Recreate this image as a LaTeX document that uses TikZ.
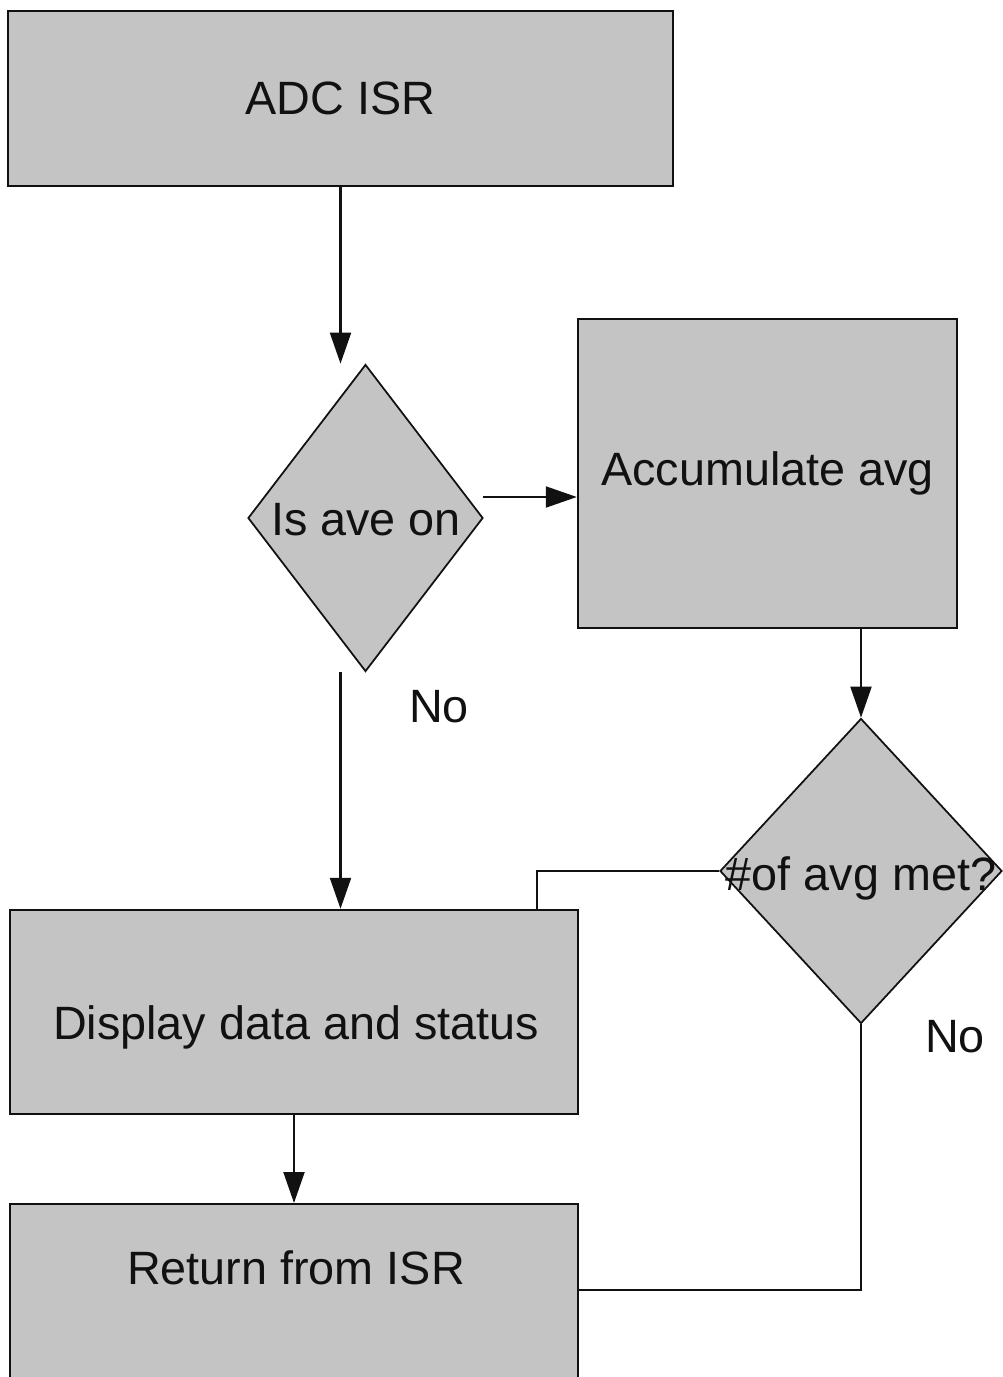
\documentclass[tikz,border=0pt]{standalone}
\usepackage{fontspec}
\setmainfont{Liberation Sans}
\usetikzlibrary{calc,shapes.geometric,arrows.meta}
\definecolor{shade}{HTML}{C4C4C4}
\definecolor{ink}{HTML}{111111}
\tikzset{
  txt/.style={text=ink, font=\fontsize{13.3}{16}\selectfont, inner sep=0pt},
  box/.style={rectangle, draw=ink, fill=shade, line width=0.7pt, txt},
  decision/.style={diamond, draw=ink, fill=shade, line width=0.5pt, inner sep=0pt},
  flow/.style={draw=ink, line width=0.6pt, -{Triangle[length=3.1mm,width=2.1mm]}},
  wire/.style={draw=ink, line width=0.6pt},
}

\begin{document}
\begin{tikzpicture}
  \useasboundingbox (0,0) rectangle (10.03,-13.77);
  \clip (0,0) rectangle (10.03,-13.77);

  % boxes and decisions
  \node[box, minimum width=6.65cm, minimum height=1.75cm] (adc) at (3.405,-0.985) {ADC ISR};
  \node[decision, minimum width=2.35cm, minimum height=3.07cm] (ave) at (3.655,-5.18) {};
  \node[txt] (avetext) at (3.66,-5.20) {Is ave on};
  \node[box, minimum width=3.79cm, minimum height=3.09cm] (acc) at (7.675,-4.735) {Accumulate avg};
  \node[decision, minimum width=2.82cm, minimum height=3.05cm] (avg) at (8.61,-8.71) {};
  \node[txt] (avgtext) at (8.61,-8.78) {\#of avg met?};
  \node[box, minimum width=5.68cm, minimum height=2.04cm] (disp) at (2.94,-10.12) {};
  \node[txt] (disptext) at ($(disp)+(0.02,-0.15)$) {Display data and status};
  \node[box, minimum width=5.68cm, minimum height=2.2cm, anchor=north] (ret) at (2.94,-12.03) {};
  \node[txt] (rettext) at ($(ret.north)+(0.02,-0.65)$) {Return from ISR};

  \node[txt] (no1) at (4.39,-7.07) {No};
  \node[txt] (no2) at (9.55,-10.37) {No};

  % connectors
  \coordinate (yes1) at (4.83,-4.97);
  \coordinate (back) at (5.37,-8.71);
  \coordinate (down) at (8.61,-12.90);

  \draw[flow] (adc.south) -- (adc.south |- ave.north);
  \draw[flow] (yes1) -- (yes1 -| acc.west);
  \draw[flow] (avg.north |- acc.south) -- (avg.north);
  \draw[flow] (adc.south |- ave.south) -- (adc.south |- disp.north);
  \draw[wire] (avg.west) -- (avg.west -| back) -- (back |- disp.north);
  \draw[flow] (disp.south) -- (ret.north);
  \draw[wire] (avg.south) -- (down) -- (down -| ret.east);
\end{tikzpicture}
\end{document}
